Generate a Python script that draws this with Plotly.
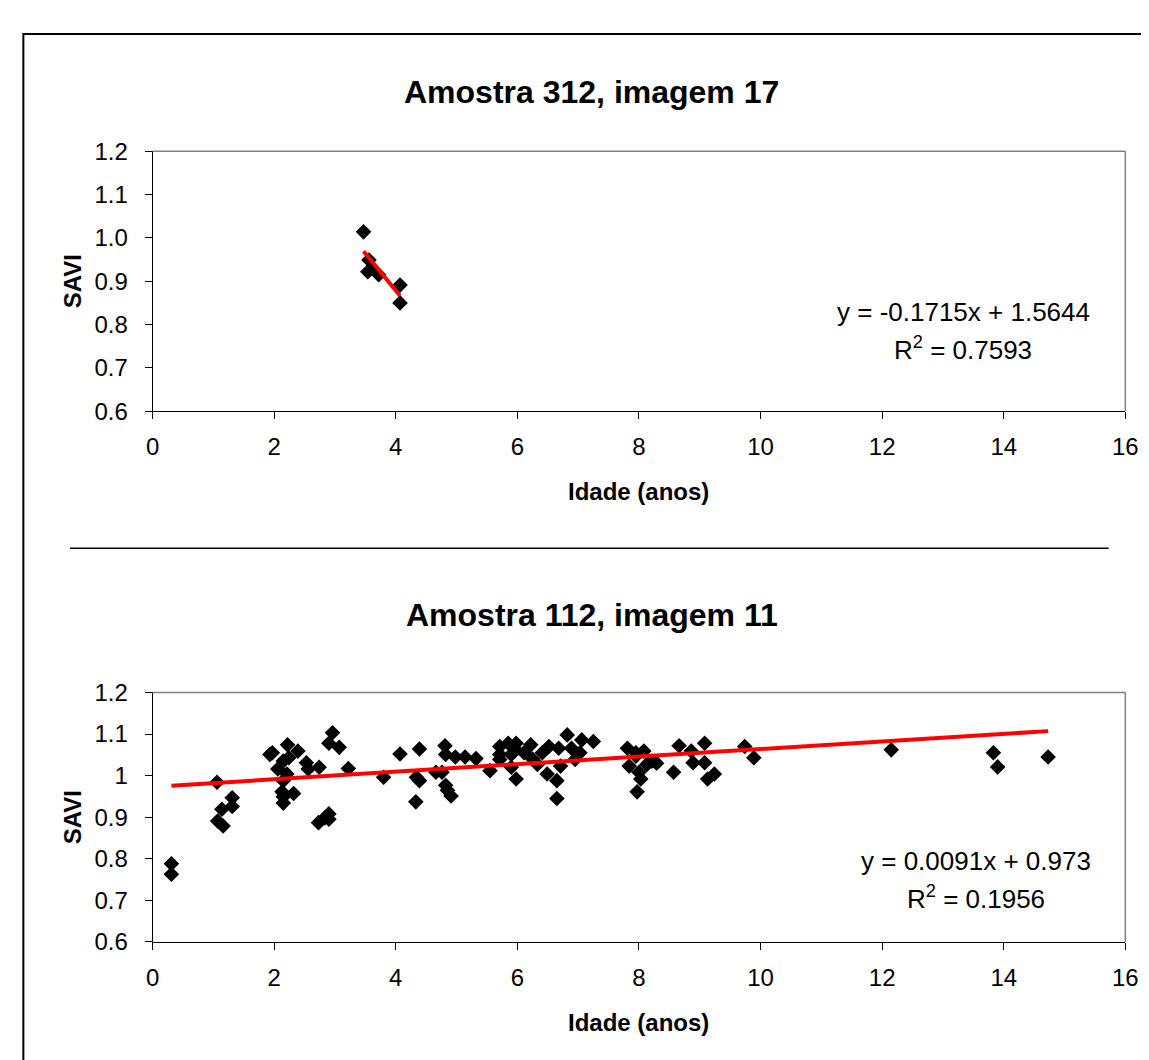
import plotly.graph_objects as go

W, H = 1149, 1060

# ---------------- data ----------------
top_x = [3.47, 3.56, 3.54, 3.61, 3.72, 4.07, 4.07]
top_y = [1.014, 0.949, 0.922, 0.930, 0.915, 0.891, 0.850]
top_slope, top_intercept = -0.1715, 1.5644

bot_x = [0.31, 0.31, 1.06, 1.07, 1.16, 1.14, 1.31, 1.31, 1.93, 1.97,
         2.22, 2.39, 2.15, 2.24, 2.06, 2.21, 2.15, 2.13, 2.15, 2.15,
         2.32, 2.53, 2.56, 2.74, 2.73, 2.83, 2.90, 2.90, 2.96, 2.90,
         3.07, 3.22, 3.80, 4.07, 4.39, 4.34, 4.39, 4.33, 4.66, 4.76,
         4.81, 4.82, 4.98, 5.14, 5.32, 4.82, 4.85, 4.91, 5.55, 5.71,
         5.71, 5.71, 5.85, 5.95, 5.98, 5.90, 5.90, 5.98, 6.11, 6.22,
         6.25, 6.33, 6.41, 6.52, 6.49, 6.65, 6.65, 6.68, 6.71, 6.82,
         6.89, 6.95, 7.06, 7.03, 7.25, 7.81, 7.84, 7.95, 8.08, 7.95,
         8.00, 8.03, 7.97, 8.21, 8.29, 8.13, 8.57, 8.66, 8.86, 8.89,
         9.08, 9.08, 9.13, 9.24, 9.74, 9.89, 12.15, 13.83, 13.90, 14.73]
bot_y = [0.788, 0.763, 0.984, 0.891, 0.879, 0.919, 0.947, 0.926, 1.051, 1.055,
         1.074, 1.059, 1.035, 1.043, 1.016, 1.004, 0.988, 0.961, 0.949, 0.934,
         0.957, 1.031, 1.016, 1.020, 0.887, 0.898, 0.908, 0.895, 1.103, 1.078,
         1.068, 1.017, 0.996, 1.052, 1.064, 0.996, 0.988, 0.937, 1.008, 1.008,
         1.072, 1.051, 1.045, 1.045, 1.041, 0.977, 0.965, 0.951, 1.012, 1.070,
         1.051, 1.039, 1.078, 1.066, 1.078, 1.051, 1.020, 0.992, 1.055, 1.074,
         1.040, 1.027, 1.055, 1.070, 1.004, 0.988, 0.945, 1.066, 1.023, 1.098,
         1.066, 1.039, 1.086, 1.055, 1.082, 1.066, 1.023, 1.055, 1.059, 1.047,
         1.008, 0.992, 0.961, 1.035, 1.030, 1.027, 1.008, 1.072, 1.059, 1.031,
         1.078, 1.031, 0.992, 1.004, 1.070, 1.043, 1.062, 1.055, 1.021, 1.045]
bot_slope, bot_intercept = 0.0091, 0.973

x_ticks = [0, 2, 4, 6, 8, 10, 12, 14, 16]
y_ticks = [0.6, 0.7, 0.8, 0.9, 1.0, 1.1, 1.2]
top_y_labels = ["0.6", "0.7", "0.8", "0.9", "1.0", "1.1", "1.2"]
bot_y_labels = ["0.6", "0.7", "0.8", "0.9", "1", "1.1", "1.2"]

top_title = "Amostra 312, imagem 17"
bot_title = "Amostra 112, imagem 11"
x_title = "Idade (anos)"
y_title = "SAVI"
top_eq = ["y = -0.1715x + 1.5644", "R<sup>2</sup> = 0.7593"]
bot_eq = ["y = 0.0091x + 0.973", "R<sup>2</sup> = 0.1956"]

FONT = "Liberation Sans, Arial, sans-serif"

def px(x):
    return x / W

def py(y):
    return 1 - y / H

fig = go.Figure()

def add_panel(xs, ys, slope, intercept, xa, ya):
    fig.add_trace(go.Scatter(x=xs, y=ys, mode="markers", xaxis=xa, yaxis=ya,
                             marker=dict(symbol="diamond", size=12, color="black"),
                             showlegend=False, hoverinfo="skip"))
    x0, x1 = min(xs), max(xs)
    fig.add_trace(go.Scatter(x=[x0, x1], y=[slope * x0 + intercept, slope * x1 + intercept],
                             mode="lines", xaxis=xa, yaxis=ya,
                             line=dict(color="#ff0000", width=4),
                             showlegend=False, hoverinfo="skip"))

add_panel(top_x, top_y, top_slope, top_intercept, "x", "y")
add_panel(bot_x, bot_y, bot_slope, bot_intercept, "x2", "y2")

plot_l, plot_r = 140, 1130
top_t, top_b = 132.7, 399.3
bot_t, bot_b = 688, 944

axis_common = dict(showline=True, linecolor="black", linewidth=1, ticks="outside",
                   ticklen=7, tickcolor="black", showgrid=False, zeroline=False,
                   tickfont=dict(family=FONT, size=24, color="black"))

fig.update_layout(
    width=W, height=H, margin=dict(l=0, r=0, t=0, b=0),
    paper_bgcolor="white", plot_bgcolor="white",
    xaxis=dict(domain=[px(plot_l), px(plot_r)], range=[0, 16], tickvals=x_ticks,
               anchor="y", ticklabelstandoff=7, **axis_common),
    yaxis=dict(domain=[py(top_b), py(top_t)], range=[0.6, 1.2], tickvals=y_ticks,
               ticktext=top_y_labels, anchor="x", ticklabelstandoff=12, **axis_common),
    xaxis2=dict(domain=[px(plot_l), px(plot_r)], range=[0, 16], tickvals=x_ticks,
                anchor="y2", ticklabelstandoff=7, **axis_common),
    yaxis2=dict(domain=[py(bot_b), py(bot_t)], range=[0.6, 1.2], tickvals=y_ticks,
                ticktext=bot_y_labels, anchor="x2", ticklabelstandoff=12, **axis_common),
)

shapes = []
# gray frame top/right for both plots
for t, b in [(top_t, top_b), (bot_t, bot_b)]:
    shapes.append(dict(type="line", xref="paper", yref="paper", x0=px(plot_l), x1=px(plot_r),
                       y0=py(t), y1=py(t), line=dict(color="#808080", width=1.5)))
    shapes.append(dict(type="line", xref="paper", yref="paper", x0=px(plot_r), x1=px(plot_r),
                       y0=py(t), y1=py(b), line=dict(color="#808080", width=1.5)))
# outer border
shapes.append(dict(type="rect", xref="paper", yref="paper", x0=px(8.5), x1=1.05,
                   y0=-0.05, y1=py(12.3), line=dict(color="black", width=2)))
# separator
shapes.append(dict(type="line", xref="paper", yref="paper", x0=px(56), x1=px(1113),
                   y0=py(540), y1=py(540), line=dict(color="black", width=1.5)))
fig.update_layout(shapes=shapes)

ann = []
def text(x, y, s, size, bold=False, angle=0):
    ann.append(dict(xref="paper", yref="paper", x=px(x), y=py(y), text=(f"<b>{s}</b>" if bold else s),
                    showarrow=False, xanchor="center", yanchor="middle", textangle=angle,
                    font=dict(family=FONT, size=size, color="black")))

text(587, 72, top_title, 32, bold=True)
text(587, 609, bot_title, 32, bold=True)
text(635, 482, x_title, 24, bold=True)
text(635, 1027, x_title, 24, bold=True)
text(58, (top_t + top_b) / 2, y_title, 24, bold=True, angle=-90)
text(58, (bot_t + bot_b) / 2, y_title, 24, bold=True, angle=-90)
text(965, 298, top_eq[0], 26)
text(965, 335, top_eq[1], 26)
text(978, 861, bot_eq[0], 26)
text(978, 898, bot_eq[1], 26)
fig.update_layout(annotations=ann)

fig.write_html("out.html")
